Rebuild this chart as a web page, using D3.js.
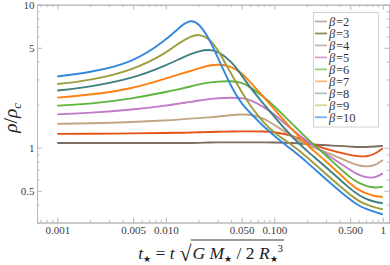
<!DOCTYPE html>
<html>
<head>
<meta charset="utf-8">
<script src="https://cdn.jsdelivr.net/npm/d3@7"></script>
<style>
body{margin:0;background:#fff}
svg{display:block}
text{white-space:pre}
</style>
</head>
<body>
<svg id="chart" width="390" height="265"></svg>
<script>
// t* samples
var tVals = [0.001, 0.002, 0.005, 0.01, 0.014, 0.017, 0.02, 0.025, 0.03, 0.04, 0.05, 0.06, 0.08, 0.1, 0.15, 0.2, 0.3, 0.5, 0.6, 0.7, 0.85, 1];

// rho/rho_c for each beta
var rhoB2  = [1.08, 1.08, 1.08, 1.08, 1.08, 1.08, 1.08, 1.09, 1.09, 1.09, 1.09, 1.09, 1.09, 1.09, 1.08, 1.06, 1.04, 1.02, 1.01, 1.01, 1.02, 1.03];
var rhoB3  = [1.25, 1.25, 1.26, 1.27, 1.27, 1.28, 1.28, 1.29, 1.29, 1.30, 1.30, 1.30, 1.30, 1.29, 1.21, 1.10, 0.971, 0.889, 0.871, 0.865, 0.904, 0.990];
var rhoB4  = [1.47, 1.48, 1.51, 1.55, 1.58, 1.60, 1.61, 1.63, 1.65, 1.69, 1.71, 1.71, 1.61, 1.44, 1.19, 1.04, 0.933, 0.788, 0.751, 0.736, 0.751, 0.820];
var rhoB5  = [1.71, 1.75, 1.85, 1.97, 2.05, 2.09, 2.14, 2.19, 2.22, 2.24, 2.23, 2.17, 1.93, 1.72, 1.31, 1.11, 0.904, 0.698, 0.644, 0.619, 0.614, 0.662];
var rhoB6  = [1.97, 2.02, 2.21, 2.45, 2.59, 2.68, 2.77, 2.86, 2.90, 2.93, 2.86, 2.66, 2.26, 1.96, 1.44, 1.16, 0.882, 0.614, 0.566, 0.540, 0.523, 0.534];
var rhoB7  = [2.24, 2.34, 2.59, 3.05, 3.30, 3.44, 3.58, 3.76, 3.83, 3.73, 3.33, 2.88, 2.26, 1.86, 1.31, 1.04, 0.807, 0.557, 0.506, 0.478, 0.456, 0.454];
var rhoB8  = [2.51, 2.66, 3.05, 3.76, 4.24, 4.52, 4.74, 4.86, 4.74, 4.04, 3.22, 2.62, 2.02, 1.64, 1.16, 0.948, 0.733, 0.514, 0.467, 0.438, 0.417, 0.409];
var rhoB9  = [2.79, 2.95, 3.49, 4.56, 5.57, 5.99, 6.24, 5.85, 4.90, 3.28, 2.45, 1.96, 1.49, 1.27, 1.03, 0.861, 0.655, 0.467, 0.424, 0.401, 0.382, 0.371];
var rhoB10 = [3.15, 3.36, 3.94, 5.62, 7.21, 7.82, 7.45, 5.85, 4.31, 2.66, 2.02, 1.75, 1.40, 1.21, 0.948, 0.794, 0.599, 0.431, 0.394, 0.373, 0.355, 0.342];

var betas = [2, 3, 4, 5, 6, 7, 8, 9, 10];
var lineColors = ["#7d6e5f", "#e65216", "#c0a784", "#c07ac8", "#5cb43e", "#ff8010", "#3f8080", "#9d9d3c", "#3388dd"];
var legendColors = ["#b9afa6", "#8e8d52", "#c6b9a0", "#d4a2d4", "#96cf78", "#ffb878", "#a6c7c6", "#d3d597", "#74b0ea"];

// ticks
var xMajor = [0.001, 0.005, 0.01, 0.05, 0.1, 0.5, 1];
var xMajorLabels = ["0.001", "0.005", "0.010", "0.050", "0.100", "0.500", "1"];
var xMinor = [0.0007, 0.0008, 0.0009, 0.002, 0.003, 0.004, 0.006, 0.007, 0.008, 0.009,
              0.02, 0.03, 0.04, 0.06, 0.07, 0.08, 0.09, 0.2, 0.3, 0.4, 0.6, 0.7, 0.8, 0.9];
var yMajor = [0.5, 1, 5, 10];
var yMajorLabels = ["0.5", "1", "5", "10"];
var yMinor = [0.3, 0.4, 0.6, 0.7, 0.8, 0.9, 2, 3, 4, 6, 7, 8, 9];

var serif = "'Liberation Serif', 'DejaVu Serif', serif";
var svg = d3.select("#chart");

var x = d3.scaleLog().domain([0.00065, 1.15]).range([37, 389.4]);
var y = d3.scaleLog().domain([0.3, 10]).range([222.5, 4.7]);

var frameCol = "#b8b8b8";
function styleAxis(g) {
  g.attr("font-family", serif).attr("font-size", 11);
  g.select(".domain").attr("stroke", frameCol);
  g.selectAll(".tick line").attr("stroke", frameCol);
  g.selectAll(".tick text").attr("fill", "#3c3c3c");
}

// frame + ticks, mathematica style (ticks inside, all four sides)
svg.append("g").attr("transform", "translate(0,222.5)")
  .call(d3.axisBottom(x).tickValues(xMinor).tickFormat("").tickSizeInner(-2.5).tickSizeOuter(0)).call(styleAxis);
svg.append("g").attr("transform", "translate(0,222.5)")
  .call(d3.axisBottom(x).tickValues(xMajor).tickFormat(function(d, i){ return xMajorLabels[i]; })
    .tickSizeInner(-5).tickSizeOuter(0).tickPadding(4)).call(styleAxis);
svg.append("g").attr("transform", "translate(0,4.7)")
  .call(d3.axisTop(x).tickValues(xMinor).tickFormat("").tickSizeInner(-2.5).tickSizeOuter(0)).call(styleAxis);
svg.append("g").attr("transform", "translate(0,4.7)")
  .call(d3.axisTop(x).tickValues(xMajor).tickFormat("").tickSizeInner(-5).tickSizeOuter(0)).call(styleAxis);

svg.append("g").attr("transform", "translate(37,0)")
  .call(d3.axisLeft(y).tickValues(yMinor).tickFormat("").tickSizeInner(-2.5).tickSizeOuter(0)).call(styleAxis);
svg.append("g").attr("transform", "translate(37,0)")
  .call(d3.axisLeft(y).tickValues(yMajor).tickFormat(function(d, i){ return yMajorLabels[i]; })
    .tickSizeInner(-5).tickSizeOuter(0).tickPadding(2.5)).call(styleAxis);
svg.append("g").attr("transform", "translate(389.4,0)")
  .call(d3.axisRight(y).tickValues(yMinor).tickFormat("").tickSizeInner(-2.5).tickSizeOuter(0)).call(styleAxis);
svg.append("g").attr("transform", "translate(389.4,0)")
  .call(d3.axisRight(y).tickValues(yMajor).tickFormat("").tickSizeInner(-5).tickSizeOuter(0)).call(styleAxis);

// curves
var allRho = [rhoB2, rhoB3, rhoB4, rhoB5, rhoB6, rhoB7, rhoB8, rhoB9, rhoB10];
var line = d3.line()
  .x(function(d){ return x(d[0]); })
  .y(function(d){ return y(d[1]); })
  .curve(d3.curveBasis);

svg.append("g").selectAll("path")
  .data(betas)
  .join("path")
  .attr("d", function(b, i){ return line(d3.zip(tVals, allRho[i])); })
  .attr("fill", "none")
  .attr("stroke", function(b, i){ return lineColors[i]; })
  .attr("stroke-width", 1.9);

// legend
var leg = svg.append("g");
leg.append("rect").attr("x", 313.5).attr("y", 12.5).attr("width", 65).attr("height", 114.5)
  .attr("fill", "#fff").attr("stroke", "#d2d2d2").attr("stroke-width", 1);
var items = leg.selectAll("g.item").data(betas).join("g")
  .attr("transform", function(b, i){ return "translate(0," + (21.5 + i * 11.97) + ")"; });
items.append("line").attr("x1", 315).attr("x2", 327).attr("y1", 0).attr("y2", 0)
  .attr("stroke", function(b, i){ return legendColors[i]; }).attr("stroke-width", 1.8);
items.append("text").attr("x", 329).attr("y", 4.3)
  .attr("font-family", serif).attr("font-size", 12.5).attr("fill", "#333")
  .html(function(b){ return "<tspan font-style=\"italic\">β</tspan><tspan dx=\"0.8\">=" + b + "</tspan>"; });

// y label  rho/rho_c
var yl = svg.append("text").attr("transform", "translate(17,118) rotate(-90)")
  .attr("text-anchor", "middle").attr("font-family", serif).attr("font-size", 19.5).attr("fill", "#222");
yl.append("tspan").attr("font-style", "italic").text("ρ");
yl.append("tspan").text("/");
yl.append("tspan").attr("font-style", "italic").text("ρ");
yl.append("tspan").attr("font-style", "italic").attr("font-size", 12.5).attr("dy", 4).text("c");

// x label  t* = t sqrt(G M* / 2 R*^3)
var base = 259, fs = 17.5;
var xg = svg.append("g").attr("font-family", serif).attr("font-size", fs).attr("fill", "#222");
var ta = xg.append("text").attr("y", base);
ta.append("tspan").attr("font-style", "italic").text("t");
ta.append("tspan").attr("font-size", 9).attr("dy", 3).text("★");
ta.append("tspan").attr("dy", -3).text(" = ");
ta.append("tspan").attr("font-style", "italic").text("t");
var rad = xg.append("text").attr("y", base + 1.5).attr("font-size", 22).text("√");
var tb = xg.append("text").attr("y", base);
tb.append("tspan").attr("font-style", "italic").text("G");
tb.append("tspan").text(" ");
tb.append("tspan").attr("font-style", "italic").text("M");
tb.append("tspan").attr("font-size", 9).attr("dy", 3).text("★");
tb.append("tspan").attr("dy", -3).text(" / 2 ");
tb.append("tspan").attr("font-style", "italic").text("R");
tb.append("tspan").attr("font-size", 9).attr("dy", 3).text("★");
tb.append("tspan").attr("font-size", 10.5).attr("dy", -10.5).text("3");

var gap = 5;
var wa = ta.node().getComputedTextLength();
var wr = rad.node().getComputedTextLength();
var wb = tb.node().getComputedTextLength();
var x0 = 210 - (wa + gap + wr + wb) / 2;
ta.attr("x", x0);
rad.attr("x", x0 + wa + gap);
tb.attr("x", x0 + wa + gap + wr + 1);
xg.append("line")
  .attr("x1", x0 + wa + gap + wr - 0.8).attr("x2", x0 + wa + gap + wr + wb + 2)
  .attr("y1", 240).attr("y2", 240)
  .attr("stroke", "#222").attr("stroke-width", 0.9);
</script>
</body>
</html>
